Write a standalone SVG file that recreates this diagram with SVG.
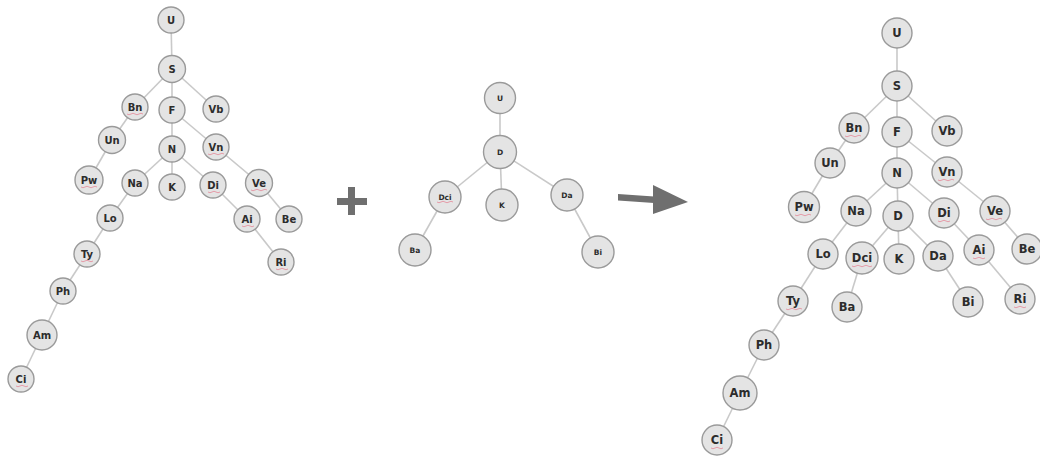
<svg xmlns="http://www.w3.org/2000/svg" width="1040" height="457" viewBox="0 0 1040 457">
  <style>
    .edge { stroke: #c9c9c9; stroke-width: 1.6; fill: none; }
    .node circle { fill: #e4e4e4; stroke: #9a9a9a; stroke-width: 1.4; }
    .node text { font-family: "DejaVu Sans", Verdana, sans-serif; font-weight: bold; fill: #2c2c2c; text-anchor: middle; dominant-baseline: central; }
    .sm text { font-size: 10px; }
    .md text { font-size: 7.5px; }
    .lg text { font-size: 11.5px; }
    .squig { stroke: #e58a9a; stroke-width: 1; fill: none; opacity: 0.8; }
    .op { fill: #6f6f6f; }
  </style>

  <!-- connectors -->
  <g id="connectors">
    <!-- first tree -->
    <line class="edge" x1="171" y1="20" x2="172" y2="69"/>
    <line class="edge" x1="172" y1="69" x2="135" y2="107"/>
    <line class="edge" x1="172" y1="69" x2="172" y2="110"/>
    <line class="edge" x1="172" y1="69" x2="216" y2="109"/>
    <line class="edge" x1="135" y1="107" x2="112" y2="140"/>
    <line class="edge" x1="112" y1="140" x2="89" y2="180"/>
    <line class="edge" x1="172" y1="110" x2="172" y2="149"/>
    <line class="edge" x1="172" y1="110" x2="216" y2="147"/>
    <line class="edge" x1="216" y1="147" x2="259" y2="183"/>
    <line class="edge" x1="259" y1="183" x2="289" y2="219"/>
    <line class="edge" x1="172" y1="149" x2="135" y2="183"/>
    <line class="edge" x1="172" y1="149" x2="172" y2="187"/>
    <line class="edge" x1="172" y1="149" x2="213" y2="185"/>
    <line class="edge" x1="213" y1="185" x2="247" y2="219"/>
    <line class="edge" x1="247" y1="219" x2="281" y2="262"/>
    <line class="edge" x1="135" y1="183" x2="110" y2="218"/>
    <line class="edge" x1="110" y1="218" x2="87" y2="254"/>
    <line class="edge" x1="87" y1="254" x2="63" y2="291"/>
    <line class="edge" x1="63" y1="291" x2="42" y2="335"/>
    <line class="edge" x1="42" y1="335" x2="21" y2="379"/>
    <!-- second tree -->
    <line class="edge" x1="500" y1="98" x2="500" y2="152"/>
    <line class="edge" x1="500" y1="152" x2="445" y2="197"/>
    <line class="edge" x1="500" y1="152" x2="502" y2="205"/>
    <line class="edge" x1="500" y1="152" x2="567" y2="195"/>
    <line class="edge" x1="445" y1="197" x2="415" y2="250"/>
    <line class="edge" x1="567" y1="195" x2="598" y2="252"/>
    <!-- merged tree -->
    <line class="edge" x1="897" y1="33" x2="897" y2="86"/>
    <line class="edge" x1="897" y1="86" x2="854" y2="128"/>
    <line class="edge" x1="897" y1="86" x2="897" y2="132"/>
    <line class="edge" x1="897" y1="86" x2="947" y2="131"/>
    <line class="edge" x1="854" y1="128" x2="830" y2="163"/>
    <line class="edge" x1="830" y1="163" x2="804" y2="207"/>
    <line class="edge" x1="897" y1="132" x2="897" y2="173"/>
    <line class="edge" x1="897" y1="132" x2="947" y2="172"/>
    <line class="edge" x1="947" y1="172" x2="995" y2="211"/>
    <line class="edge" x1="995" y1="211" x2="1028" y2="249"/>
    <line class="edge" x1="897" y1="173" x2="856" y2="211"/>
    <line class="edge" x1="897" y1="173" x2="898" y2="216"/>
    <line class="edge" x1="897" y1="173" x2="944" y2="213"/>
    <line class="edge" x1="944" y1="213" x2="979" y2="250"/>
    <line class="edge" x1="979" y1="250" x2="1020" y2="299"/>
    <line class="edge" x1="898" y1="216" x2="862" y2="258"/>
    <line class="edge" x1="898" y1="216" x2="899" y2="259"/>
    <line class="edge" x1="898" y1="216" x2="938" y2="256"/>
    <line class="edge" x1="862" y1="258" x2="847" y2="307"/>
    <line class="edge" x1="938" y1="256" x2="968" y2="302"/>
    <line class="edge" x1="856" y1="211" x2="823" y2="254"/>
    <line class="edge" x1="823" y1="254" x2="793" y2="301"/>
    <line class="edge" x1="793" y1="301" x2="764" y2="345"/>
    <line class="edge" x1="764" y1="345" x2="740" y2="393"/>
    <line class="edge" x1="740" y1="393" x2="717" y2="440"/>
  </g>

  <!-- first tree -->
  <g id="tree-a" class="sm">
    <g id="a-U" class="node"><circle cx="171" cy="20" r="13"/><text x="171" y="20">U</text></g>
    <g id="a-S" class="node"><circle cx="172" cy="69" r="13.5"/><text x="172" y="69">S</text></g>
    <g id="a-Bn" class="node"><circle cx="135" cy="107" r="13"/><text x="135" y="107">Bn</text></g>
    <g id="a-F" class="node"><circle cx="172" cy="110" r="13"/><text x="172" y="110">F</text></g>
    <g id="a-Vb" class="node"><circle cx="216" cy="109" r="13"/><text x="216" y="109">Vb</text></g>
    <g id="a-Un" class="node"><circle cx="112" cy="140" r="13.5"/><text x="112" y="140">Un</text></g>
    <g id="a-N" class="node"><circle cx="172" cy="149" r="13"/><text x="172" y="149">N</text></g>
    <g id="a-Vn" class="node"><circle cx="216" cy="147" r="13"/><text x="216" y="147">Vn</text></g>
    <g id="a-Pw" class="node"><circle cx="89" cy="180" r="14"/><text x="89" y="180">Pw</text></g>
    <g id="a-Na" class="node"><circle cx="135" cy="183" r="13"/><text x="135" y="183">Na</text></g>
    <g id="a-K" class="node"><circle cx="172" cy="187" r="13"/><text x="172" y="187">K</text></g>
    <g id="a-Di" class="node"><circle cx="213" cy="185" r="13"/><text x="213" y="185">Di</text></g>
    <g id="a-Ve" class="node"><circle cx="259" cy="183" r="13.5"/><text x="259" y="183">Ve</text></g>
    <g id="a-Lo" class="node"><circle cx="110" cy="218" r="13"/><text x="110" y="218">Lo</text></g>
    <g id="a-Ai" class="node"><circle cx="247" cy="219" r="13"/><text x="247" y="219">Ai</text></g>
    <g id="a-Be" class="node"><circle cx="289" cy="219" r="13"/><text x="289" y="219">Be</text></g>
    <g id="a-Ty" class="node"><circle cx="87" cy="254" r="13"/><text x="87" y="254">Ty</text></g>
    <g id="a-Ri" class="node"><circle cx="281" cy="262" r="13"/><text x="281" y="262">Ri</text></g>
    <g id="a-Ph" class="node"><circle cx="63" cy="291" r="13"/><text x="63" y="291">Ph</text></g>
    <g id="a-Am" class="node"><circle cx="42" cy="335" r="15"/><text x="42" y="335">Am</text></g>
    <g id="a-Ci" class="node"><circle cx="21" cy="379" r="13"/><text x="21" y="379">Ci</text></g>
  </g>

  <!-- plus sign -->
  <g id="plus" class="op">
    <rect x="337" y="198" width="30" height="7"/>
    <rect x="348" y="187" width="7" height="28"/>
  </g>

  <!-- second tree -->
  <g id="tree-b" class="md">
    <g id="b-U" class="node"><circle cx="500" cy="98" r="15.5"/><text x="500" y="98">U</text></g>
    <g id="b-D" class="node"><circle cx="500" cy="152" r="16.5"/><text x="500" y="152">D</text></g>
    <g id="b-Dci" class="node"><circle cx="445" cy="197" r="16"/><text x="445" y="197">Dci</text></g>
    <g id="b-K" class="node"><circle cx="502" cy="205" r="16"/><text x="502" y="205">K</text></g>
    <g id="b-Da" class="node"><circle cx="567" cy="195" r="16"/><text x="567" y="195">Da</text></g>
    <g id="b-Ba" class="node"><circle cx="415" cy="250" r="16"/><text x="415" y="250">Ba</text></g>
    <g id="b-Bi" class="node"><circle cx="598" cy="252" r="16"/><text x="598" y="252">Bi</text></g>
  </g>

  <!-- arrow -->
  <g id="arrow" class="op">
    <polygon points="618,194 654,196.5 654,203 618,200.5"/>
    <polygon points="653,185 688,202 653,214"/>
  </g>

  <!-- merged tree -->
  <g id="tree-c" class="lg">
    <g id="c-U" class="node"><circle cx="897" cy="33" r="15"/><text x="897" y="33">U</text></g>
    <g id="c-S" class="node"><circle cx="897" cy="86" r="15"/><text x="897" y="86">S</text></g>
    <g id="c-Bn" class="node"><circle cx="854" cy="128" r="15"/><text x="854" y="128">Bn</text></g>
    <g id="c-F" class="node"><circle cx="897" cy="132" r="15"/><text x="897" y="132">F</text></g>
    <g id="c-Vb" class="node"><circle cx="947" cy="131" r="15"/><text x="947" y="131">Vb</text></g>
    <g id="c-Un" class="node"><circle cx="830" cy="163" r="15"/><text x="830" y="163">Un</text></g>
    <g id="c-N" class="node"><circle cx="897" cy="173" r="15"/><text x="897" y="173">N</text></g>
    <g id="c-Vn" class="node"><circle cx="947" cy="172" r="15"/><text x="947" y="172">Vn</text></g>
    <g id="c-Pw" class="node"><circle cx="804" cy="207" r="15.5"/><text x="804" y="207">Pw</text></g>
    <g id="c-Na" class="node"><circle cx="856" cy="211" r="15"/><text x="856" y="211">Na</text></g>
    <g id="c-D" class="node"><circle cx="898" cy="216" r="15"/><text x="898" y="216">D</text></g>
    <g id="c-Di" class="node"><circle cx="944" cy="213" r="15"/><text x="944" y="213">Di</text></g>
    <g id="c-Ve" class="node"><circle cx="995" cy="211" r="15"/><text x="995" y="211">Ve</text></g>
    <g id="c-Lo" class="node"><circle cx="823" cy="254" r="15"/><text x="823" y="254">Lo</text></g>
    <g id="c-Dci" class="node"><circle cx="862" cy="258" r="16"/><text x="862" y="258">Dci</text></g>
    <g id="c-K" class="node"><circle cx="899" cy="259" r="15"/><text x="899" y="259">K</text></g>
    <g id="c-Da" class="node"><circle cx="938" cy="256" r="15"/><text x="938" y="256">Da</text></g>
    <g id="c-Ai" class="node"><circle cx="979" cy="250" r="15"/><text x="979" y="250">Ai</text></g>
    <g id="c-Be" class="node"><circle cx="1027" cy="249" r="15"/><text x="1027" y="249">Be</text></g>
    <g id="c-Ty" class="node"><circle cx="793" cy="301" r="15"/><text x="793" y="301">Ty</text></g>
    <g id="c-Ba" class="node"><circle cx="847" cy="307" r="15"/><text x="847" y="307">Ba</text></g>
    <g id="c-Bi" class="node"><circle cx="968" cy="302" r="15"/><text x="968" y="302">Bi</text></g>
    <g id="c-Ri" class="node"><circle cx="1020" cy="299" r="15"/><text x="1020" y="299">Ri</text></g>
    <g id="c-Ph" class="node"><circle cx="764" cy="345" r="15"/><text x="764" y="345">Ph</text></g>
    <g id="c-Am" class="node"><circle cx="740" cy="393" r="17"/><text x="740" y="393">Am</text></g>
    <g id="c-Ci" class="node"><circle cx="717" cy="440" r="15"/><text x="717" y="440">Ci</text></g>
  </g>

  <!-- wavy underlines beneath some labels -->
  <g id="underlines">
    <path class="squig" d="M127 114 q2 1.5 4 0 t4 0 t4 0 t4 0"/>
    <path class="squig" d="M208 154 q2 1.5 4 0 t4 0 t4 0 t4 0"/>
    <path class="squig" d="M81 187 q2 1.5 4 0 t4 0 t4 0 t4 0"/>
    <path class="squig" d="M251 190 q2 1.5 4 0 t4 0 t4 0 t4 0"/>
    <path class="squig" d="M208 192 q2 1.5 4 0 t4 0 t4 0"/>
    <path class="squig" d="M242 226 q2 1.5 4 0 t4 0 t4 0"/>
    <path class="squig" d="M81 261 q2 1.5 4 0 t4 0 t4 0"/>
    <path class="squig" d="M276 269 q2 1.5 4 0 t4 0 t4 0"/>
    <path class="squig" d="M16 386 q2 1.5 4 0 t4 0 t4 0"/>
    <path class="squig" d="M437 202 q2 1.5 4 0 t4 0 t4 0 t4 0"/>
    <path class="squig" d="M845 136 q2 1.5 4 0 t4 0 t4 0 t4 0"/>
    <path class="squig" d="M938 180 q2 1.5 4 0 t4 0 t4 0 t4 0"/>
    <path class="squig" d="M795 215 q2 1.5 4 0 t4 0 t4 0 t4 0"/>
    <path class="squig" d="M986 219 q2 1.5 4 0 t4 0 t4 0 t4 0"/>
    <path class="squig" d="M938 221 q2 1.5 4 0 t4 0 t4 0"/>
    <path class="squig" d="M852 266 q2 1.5 4 0 t4 0 t4 0 t4 0 t4 0"/>
    <path class="squig" d="M973 258 q2 1.5 4 0 t4 0 t4 0"/>
    <path class="squig" d="M786 309 q2 1.5 4 0 t4 0 t4 0 t4 0"/>
    <path class="squig" d="M1014 307 q2 1.5 4 0 t4 0 t4 0"/>
    <path class="squig" d="M711 448 q2 1.5 4 0 t4 0 t4 0"/>
  </g>
</svg>
